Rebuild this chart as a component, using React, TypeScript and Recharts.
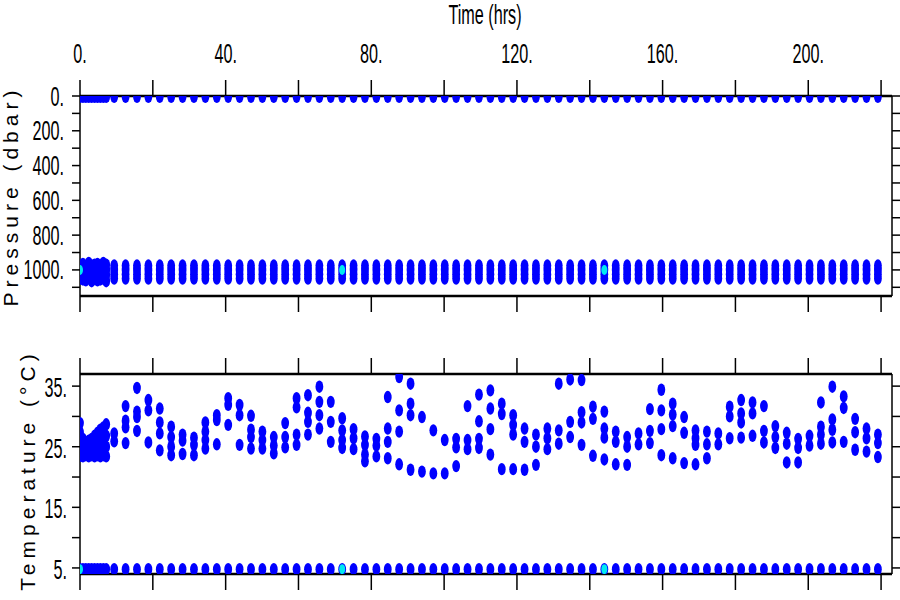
import React from 'react';
import { ScatterChart, Scatter, XAxis, YAxis } from 'recharts';

// Regular cycle times (hrs)
const cycleTimes = [
  9.39, 12.52, 15.65, 18.78, 21.91, 25.04, 28.17, 31.3, 34.43, 37.57,
  40.7, 43.83, 46.96, 50.09, 53.22, 56.35, 59.48, 62.61, 65.74, 68.87,
  72.0, 75.13, 78.26, 81.39, 84.52, 87.65, 90.78, 93.91, 97.04, 100.17,
  103.3, 106.43, 109.57, 112.7, 115.83, 118.96, 122.09, 125.22, 128.35, 131.48,
  134.61, 137.74, 140.87, 144.0, 147.13, 150.26, 153.39, 156.52, 159.65, 162.78,
  165.91, 169.04, 172.17, 175.3, 178.43, 181.57, 184.7, 187.83, 190.96, 194.09,
  197.22, 200.35, 203.48, 206.61, 209.74, 212.87, 216.0, 219.13,
];

// Near-surface temperatures sampled at each cycle (°C)
const surfaceTemps: number[][] = [
  [27.2, 25.9], [31.7, 29.3, 28.2, 25.6], [34.7, 30.8, 29.9, 27.6], [32.7, 31.0, 25.7],
  [31.3, 29.0, 27.2, 24.4], [28.3, 26.6, 25.0, 23.6], [27.0, 26.0, 23.8], [26.5, 25.3, 23.6],
  [29.0, 27.5, 26.1, 24.7], [30.2, 29.4, 25.4], [33.0, 31.9, 28.6], [31.9, 30.2, 25.3],
  [30.1, 27.8, 26.6, 24.7], [27.5, 26.1, 24.7], [26.6, 25.2, 23.9], [28.9, 26.6, 24.9],
  [33.0, 31.5, 27.0, 25.3], [33.5, 30.6, 29.1, 27.0], [34.9, 32.4, 30.2, 28.0], [32.4, 29.1, 25.8],
  [29.7, 27.7, 26.1, 24.8], [27.9, 26.4, 24.6], [26.7, 25.3, 23.7, 22.6], [26.3, 25.2, 23.4],
  [33.2, 28.0, 25.8, 23.1], [36.5, 31.0, 27.5, 22.1], [35.4, 32.1, 30.2, 21.2], [29.9, 20.9],
  [27.7, 20.6], [26.1, 20.6], [26.3, 24.9, 21.8], [31.7, 26.1, 24.6],
  [33.6, 29.2, 26.3, 24.8], [34.3, 31.3, 27.9, 23.7], [32.1, 30.4, 21.3], [30.2, 28.6, 27.0, 21.3],
  [28.0, 25.8, 21.2], [27.0, 25.0, 22.0], [28.0, 26.4, 24.6], [35.4, 27.7, 25.5],
  [36.1, 29.1, 26.6], [36.0, 30.7, 29.0, 25.3], [31.6, 29.6, 23.5], [30.8, 28.0, 26.5, 22.9],
  [27.5, 25.8, 22.1], [26.6, 25.0, 22.0], [27.2, 25.4], [31.2, 27.6, 25.6],
  [34.4, 31.0, 27.9, 23.6], [32.1, 30.3, 28.4, 23.1], [29.9, 27.3, 22.3], [27.7, 26.4, 25.3, 22.1],
  [27.5, 25.4, 23.1], [27.2, 25.4], [31.6, 30.0, 26.4], [32.7, 30.5, 29.0, 26.5],
  [32.3, 30.5, 26.8], [31.7, 27.6, 25.7], [28.4, 26.6, 24.8], [27.3, 25.5, 22.4],
  [26.3, 24.8, 22.4], [26.8, 25.2], [32.3, 28.3, 27.0, 25.5], [34.9, 29.5, 27.8, 25.7],
  [33.3, 31.4, 25.8], [29.6, 27.4, 24.5], [28.0, 26.4, 24.2], [27.0, 25.6, 23.3],
];

// Dense sampling at the start of the record
const denseTimes = [0, 0.8, 1.6, 2.4, 3.2, 4.0, 4.8, 5.6, 6.4, 7.2];
const denseTemps: number[][] = [
  [23.5, 24.8, 26.1, 27.4, 28.9],
  [23.4, 24.6, 25.6, 26.3],
  [23.6, 24.5, 25.7],
  [23.4, 24.7, 26.0],
  [23.6, 24.8, 26.3],
  [23.4, 24.8, 26.0, 26.8],
  [23.6, 24.8, 26.1, 27.3],
  [23.4, 24.8, 26.2, 27.8],
  [23.6, 24.9, 26.5, 28.2],
  [23.4, 25.0, 26.8, 28.7],
];
const denseDeepPressures: number[][] = [
  [975, 1000, 1030, 1050],
  [965, 995, 1025, 1055],
  [980, 1005, 1035, 1060],
  [960, 990, 1020, 1045],
  [975, 1005, 1035, 1065],
  [970, 995, 1025, 1050],
  [965, 995, 1030, 1060],
  [975, 1000, 1030, 1055],
  [960, 990, 1020, 1050],
  [970, 1000, 1030, 1065],
];

const deepPressures = [975, 1000, 1025, 1050];
const surfacePressure = 5;
const deepTemp = 4.8;
const highlightTimes = [0, 72, 144];
const highlightPressure = 1000;

const timeTicks = [0, 20, 40, 60, 80, 100, 120, 140, 160, 180, 200, 220];
const pressureTicks = [0, 100, 200, 300, 400, 500, 600, 700, 800, 900, 1000, 1100];
const tempTicks = [5, 10, 15, 20, 25, 30, 35];

const BLUE = '#0000ff';
const CYAN = '#00eaf0';
const FONT = '"Liberation Sans", Arial, sans-serif';

// Build tables
const allTimes = [...denseTimes, ...cycleTimes];
const pressureData: { t: number; v: number }[] = [];
allTimes.forEach((t) => pressureData.push({ t, v: surfacePressure }));
denseTimes.forEach((t, i) => denseDeepPressures[i].forEach((p) => pressureData.push({ t, v: p })));
cycleTimes.forEach((t) => deepPressures.forEach((p) => pressureData.push({ t, v: p })));
const pressureHighlight = highlightTimes.map((t) => ({ t, v: highlightPressure }));

const tempData: { t: number; v: number }[] = [];
denseTimes.forEach((t, i) => denseTemps[i].forEach((v) => tempData.push({ t, v })));
cycleTimes.forEach((t, i) => surfaceTemps[i].forEach((v) => tempData.push({ t, v })));
allTimes.forEach((t) => tempData.push({ t, v: deepTemp }));
const tempHighlight = highlightTimes.map((t) => ({ t, v: deepTemp }));

const Cond = ({ x, y, anchor, children }: any) => (
  <text
    transform={`translate(${x},${y}) scale(0.6,1)`}
    textAnchor={anchor}
    fontFamily={FONT}
    fontSize={27}
    fill="#000"
  >
    {children}
  </text>
);

const blueDot = (props: any) => (
  <ellipse cx={props.cx} cy={props.cy} rx={3.9} ry={6.2} fill={BLUE} />
);
const cyanDot = (props: any) => (
  <ellipse cx={props.cx} cy={props.cy} rx={3} ry={5} fill={CYAN} />
);

// Plot frame constants
const PLOT_LEFT = 80;

const TopTimeTick = ({ x, payload }: any) =>
  payload.value % 40 === 0 ? (
    <Cond x={x} y={63} anchor="middle">{`${payload.value}.`}</Cond>
  ) : (
    <g />
  );

const PressureTick = ({ y, payload }: any) =>
  payload.value % 200 === 0 ? (
    <Cond x={PLOT_LEFT - 16} y={y + 9.5} anchor="end">{`${payload.value}.`}</Cond>
  ) : (
    <g />
  );

const TempTick = ({ y, payload }: any) =>
  payload.value % 10 === 5 ? (
    <Cond x={PLOT_LEFT - 13} y={y + 11} anchor="end">{`${payload.value}.`}</Cond>
  ) : (
    <g />
  );

const Empty = () => <g />;

const axisLine = { stroke: '#000', strokeWidth: 2.5 };
const sideLine = { stroke: '#000', strokeWidth: 1.5 };
const tickLine = { stroke: '#000', strokeWidth: 1.5 };

const RotLabel = ({ x, y, text }: any) => (
  <text
    transform={`translate(${x},${y}) rotate(-90)`}
    textAnchor="middle"
    fontFamily={FONT}
    fontSize={21}
    letterSpacing={5}
    fill="#000"
  >
    {text}
  </text>
);

export default function App() {
  return (
    <div style={{ position: 'absolute', left: 0, top: 0, width: 900, height: 600, background: '#fff' }}>
      <div style={{ position: 'absolute', left: 0, top: 0 }}>
        <ScatterChart width={900} height={320} margin={{ top: 36, right: 0, bottom: 4, left: 20 }}>
          <XAxis
            xAxisId="top"
            orientation="top"
            dataKey="t"
            type="number"
            domain={[0, 223]}
            allowDataOverflow
            ticks={timeTicks}
            interval={0}
            height={60}
            tickSize={16}
            axisLine={axisLine}
            tickLine={tickLine}
            tick={TopTimeTick}
            label={{
              content: () => <Cond x={485} y={24} anchor="middle">Time (hrs)</Cond>,
            }}
          />
          <XAxis
            xAxisId="bottom"
            orientation="bottom"
            dataKey="t"
            type="number"
            domain={[0, 223]}
            allowDataOverflow
            ticks={timeTicks}
            interval={0}
            height={20}
            tickSize={16}
            axisLine={axisLine}
            tickLine={tickLine}
            tick={Empty}
          />
          <YAxis
            yAxisId="left"
            dataKey="v"
            type="number"
            domain={[0, 1150]}
            reversed
            allowDataOverflow
            ticks={pressureTicks}
            interval={0}
            width={60}
            tickSize={8}
            axisLine={sideLine}
            tickLine={tickLine}
            tick={PressureTick}
            label={{
              content: () => <RotLabel x={18} y={196} text="Pressure (dbar)" />,
            }}
          />
          <YAxis
            yAxisId="right"
            orientation="right"
            dataKey="v"
            type="number"
            domain={[0, 1150]}
            reversed
            allowDataOverflow
            ticks={pressureTicks}
            interval={0}
            width={8}
            tickSize={8}
            axisLine={sideLine}
            tickLine={tickLine}
            tick={Empty}
          />
          <Scatter xAxisId="top" yAxisId="left" data={pressureData} shape={blueDot} isAnimationActive={false} />
          <Scatter xAxisId="bottom" yAxisId="right" data={pressureHighlight} shape={cyanDot} isAnimationActive={false} />
        </ScatterChart>
      </div>
      <div style={{ position: 'absolute', left: 0, top: 330 }}>
        <ScatterChart width={900} height={270} margin={{ top: 24, right: 0, bottom: 6, left: 20 }}>
          <XAxis
            xAxisId="top"
            orientation="top"
            dataKey="t"
            type="number"
            domain={[0, 223]}
            allowDataOverflow
            ticks={timeTicks}
            interval={0}
            height={20}
            tickSize={16}
            axisLine={axisLine}
            tickLine={tickLine}
            tick={Empty}
          />
          <XAxis
            xAxisId="bottom"
            orientation="bottom"
            dataKey="t"
            type="number"
            domain={[0, 223]}
            allowDataOverflow
            ticks={timeTicks}
            interval={0}
            height={20}
            tickSize={16}
            axisLine={axisLine}
            tickLine={tickLine}
            tick={Empty}
          />
          <YAxis
            yAxisId="left"
            dataKey="v"
            type="number"
            domain={[4, 37]}
            allowDataOverflow
            ticks={tempTicks}
            interval={0}
            width={60}
            tickSize={8}
            axisLine={sideLine}
            tickLine={tickLine}
            tick={TempTick}
            label={{
              content: () => <RotLabel x={35} y={140} text="Temperature (°C)" />,
            }}
          />
          <YAxis
            yAxisId="right"
            orientation="right"
            dataKey="v"
            type="number"
            domain={[4, 37]}
            allowDataOverflow
            ticks={tempTicks}
            interval={0}
            width={8}
            tickSize={8}
            axisLine={sideLine}
            tickLine={tickLine}
            tick={Empty}
          />
          <Scatter xAxisId="bottom" yAxisId="left" data={tempData} shape={blueDot} isAnimationActive={false} />
          <Scatter xAxisId="top" yAxisId="right" data={tempHighlight} shape={cyanDot} isAnimationActive={false} />
        </ScatterChart>
      </div>
    </div>
  );
}
